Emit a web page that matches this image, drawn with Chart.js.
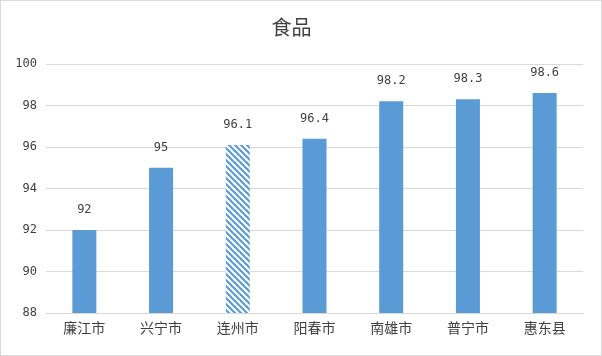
<!DOCTYPE html>
<html><head><meta charset="utf-8">
<script src="https://cdn.jsdelivr.net/npm/chart.js@4"></script>
<style>html,body{margin:0;padding:0;background:#fff;}#wrap{width:602px;height:356px;position:relative;}</style>
</head><body><div id="wrap"><canvas id="c" width="602" height="356"></canvas></div>
<script>
const categories = ['廉江市','兴宁市','连州市','阳春市','南雄市','普宁市','惠东县'];
const values = [92, 95, 96.1, 96.4, 98.2, 98.3, 98.6];
const yTicks = [88, 90, 92, 94, 96, 98, 100];
const titleText = '食品';
const hatchedIndex = 2;

const BLUE = '#5b9bd5';
function makeHatch(){
  const p = document.createElement('canvas');
  p.width = 6; p.height = 6;
  const g = p.getContext('2d');
  g.fillStyle = '#fff'; g.fillRect(0,0,6,6);
  g.strokeStyle = BLUE; g.lineWidth = 2.2; g.lineCap = 'square';
  [[-3,-3,9,9],[-9,-3,3,9],[3,-3,15,9]].forEach(([a,b,c,d])=>{g.beginPath();g.moveTo(a,b);g.lineTo(c,d);g.stroke();});
  return document.getElementById('c').getContext('2d').createPattern(p,'repeat');
}
const hatch = makeHatch();
const colors = values.map((v,i)=> i===hatchedIndex ? hatch : BLUE);

const FONT = '"Noto Sans CJK SC", "DejaVu Sans", sans-serif';
const NUMFONT = '"DejaVu Sans Mono", "Liberation Mono", monospace';

const borderPlugin = {
  id:'border',
  afterDraw(chart){
    const ctx = chart.ctx;
    ctx.save();
    ctx.strokeStyle = '#d9d9d9'; ctx.lineWidth = 1;
    ctx.strokeRect(0.5,0.5,chart.width-1,chart.height-1);
    ctx.restore();
  }
};
const labelPlugin = {
  id:'vlabels',
  afterDatasetsDraw(chart){
    const ctx = chart.ctx;
    const meta = chart.getDatasetMeta(0);
    ctx.save();
    ctx.fillStyle = '#404040';
    ctx.font = '12px ' + NUMFONT;
    ctx.textAlign = 'center';
    ctx.textBaseline = 'middle';
    meta.data.forEach((el,i)=>{
      ctx.fillText(String(values[i]), el.x, el.y - 20);
    });
    ctx.restore();
  }
};

new Chart(document.getElementById('c'), {
  type:'bar',
  data:{labels:categories, datasets:[{data:values, backgroundColor:colors, borderWidth:0, barPercentage:0.313, categoryPercentage:1}]},
  options:{
    responsive:false, animation:false,
    layout:{padding:{left:0,right:19,top:0,bottom:0}},
    plugins:{
      legend:{display:false}, tooltip:{enabled:false},
      title:{display:true, text:titleText, color:'#404040', font:{family:FONT, size:20, weight:'normal', lineHeight:1.2}, padding:{top:15,bottom:25}}
    },
    scales:{
      x:{
        grid:{display:false, drawTicks:false},
        border:{display:true, color:'#d9d9d9'},
        ticks:{color:'#404040', font:{family:FONT, size:14}, padding:6},
        afterFit(s){ s.height = 43; }
      },
      y:{
        min:88, max:100,
        afterBuildTicks(s){ s.ticks = yTicks.map(v=>({value:v})); },
        grid:{color:'#d9d9d9', drawTicks:false},
        border:{display:false},
        ticks:{color:'#404040', font:{family:NUMFONT, size:12}, padding:9},
        afterFit(s){ s.width = 46; }
      }
    }
  },
  plugins:[borderPlugin, labelPlugin]
});
</script></body></html>
